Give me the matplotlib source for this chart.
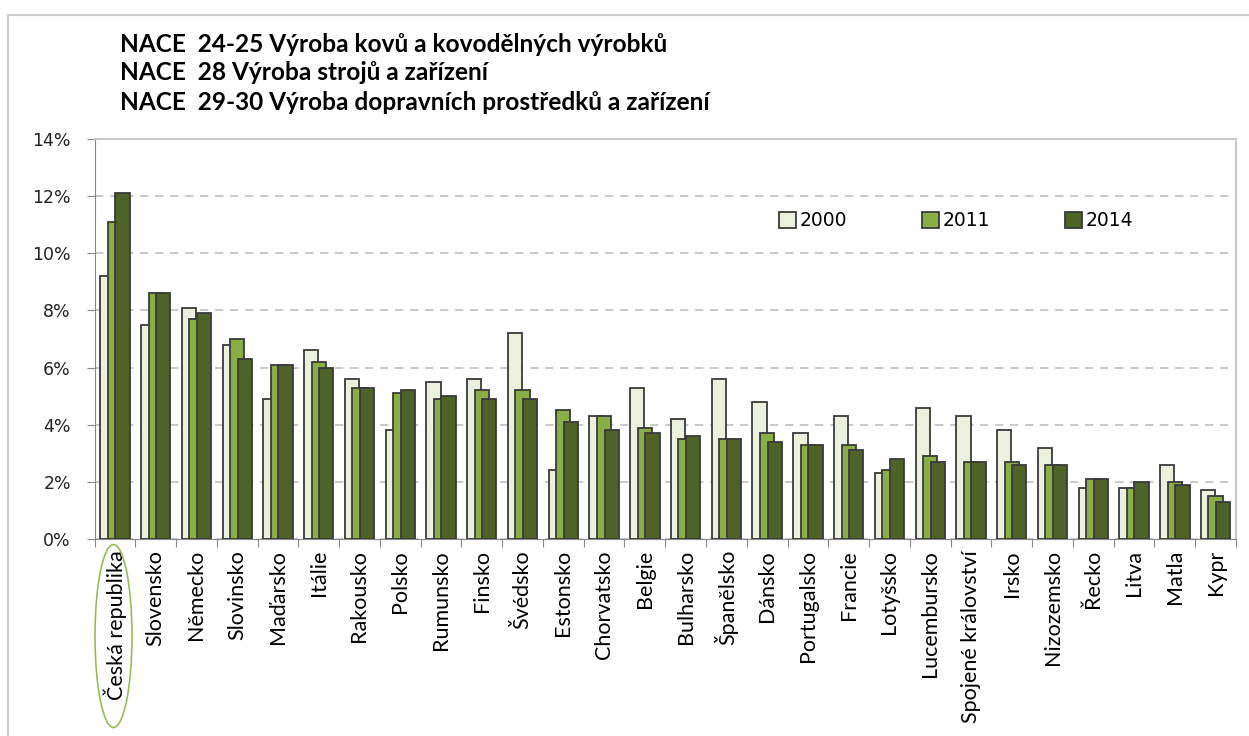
import numpy as np
import matplotlib.pyplot as plt
from matplotlib.patches import Ellipse
from matplotlib.lines import Line2D
from matplotlib.ticker import FuncFormatter

countries = ["Česká republika", "Slovensko", "Německo", "Slovinsko", "Maďarsko", "Itálie",
             "Rakousko", "Polsko", "Rumunsko", "Finsko", "Švédsko", "Estonsko", "Chorvatsko",
             "Belgie", "Bulharsko", "Španělsko", "Dánsko", "Portugalsko", "Francie", "Lotyšsko",
             "Lucembursko", "Spojené království", "Irsko", "Nizozemsko", "Řecko", "Litva",
             "Matla", "Kypr"]
# percent of employment
v2000 = [9.2, 7.5, 8.1, 6.8, 4.9, 6.6, 5.6, 3.8, 5.5, 5.6, 7.2, 2.4, 4.3, 5.3,
         4.2, 5.6, 4.8, 3.7, 4.3, 2.3, 4.6, 4.3, 3.8, 3.2, 1.8, 1.8, 2.6, 1.7]
v2011 = [11.1, 8.6, 7.7, 7.0, 6.1, 6.2, 5.3, 5.1, 4.9, 5.2, 5.2, 4.5, 4.3, 3.9,
         3.5, 3.5, 3.7, 3.3, 3.3, 2.4, 2.9, 2.7, 2.7, 2.6, 2.1, 1.8, 2.0, 1.5]
v2014 = [12.1, 8.6, 7.9, 6.3, 6.1, 6.0, 5.3, 5.2, 5.0, 4.9, 4.9, 4.1, 3.8, 3.7,
         3.6, 3.5, 3.4, 3.3, 3.1, 2.8, 2.7, 2.7, 2.6, 2.6, 2.1, 2.0, 1.9, 1.3]
years = ["2000", "2011", "2014"]
colors = ["#EBF1DE", "#8AAE45", "#4F6228"]

title_lines = ["NACE  24-25 Výroba kovů a kovodělných výrobků",
               "NACE  28 Výroba strojů a zařízení",
               "NACE  29-30 Výroba dopravních prostředků a zařízení"]

fig = plt.figure(figsize=(12.49, 7.36), dpi=100)
ax = fig.add_axes([94.5 / 1249, 1 - 539 / 736, (1236 - 94.5) / 1249, 400 / 736])

x = np.arange(len(countries))
w = 0.35
for off, vals, col, yr in zip([-0.185, 0, 0.185], [v2000, v2011, v2014], colors, years):
    ax.bar(x + off, vals, w, color=col, edgecolor="#3a3a3a", linewidth=1.3, label=yr, zorder=3)

ax.set_xlim(-0.5, len(countries) - 0.5)
ax.set_ylim(0, 14)
ax.set_yticks(np.arange(0, 15, 2))
ax.yaxis.set_major_formatter(FuncFormatter(lambda v, p: f"{v:.0f}%"))
ax.set_xticks(np.arange(-0.5, len(countries)), labels=[])
ax.set_xticks(x, labels=countries, minor=True, rotation=90, fontsize=15.5,
              family=["Lato", "DejaVu Sans"])
ax.tick_params(axis="x", which="major", length=6, color="#888888", direction="out")
ax.tick_params(axis="x", which="minor", length=0, pad=8)
ax.tick_params(axis="y", length=6, color="#888888", pad=11, labelsize=12.5,
               labelcolor="#222222")

ax.yaxis.grid(True, color="#c0c0c0", linestyle=(0, (5, 4)), linewidth=1.2, zorder=0)
for s in ["left", "bottom"]:
    ax.spines[s].set_color("#888888")
for s in ["top", "right"]:
    ax.spines[s].set_color("#c8c8c8")
    ax.spines[s].set_linewidth(1.5)

leg = ax.legend(loc="center", bbox_to_anchor=(0.755, 0.795), ncol=3, frameon=False,
                fontsize=13.5, handlelength=0.9, handleheight=0.9, handletextpad=0.2,
                columnspacing=4.0)

for i, line in enumerate(title_lines):
    fig.text(120 / 1249, 1 - (44 + i * 29) / 736, line, fontsize=17.6, fontweight="bold",
             family="Lato", va="center", ha="left")

# outer chart frame (cut off at the bottom and right)
fig.add_artist(Line2D([8 / 1249, 8 / 1249], [0, 1 - 15 / 736], color="#d0d0d0", lw=1.5))
fig.add_artist(Line2D([8 / 1249, 1], [1 - 15 / 736, 1 - 15 / 736], color="#d0d0d0", lw=1.5))

# highlight ellipse around Czech Republic
fig.add_artist(Ellipse((113.5 / 1249, 1 - 636 / 736), 37 / 1249, 183 / 736,
                       fill=False, edgecolor="#9BBB59", lw=1.2))

fig.savefig("out.png", dpi=100)
